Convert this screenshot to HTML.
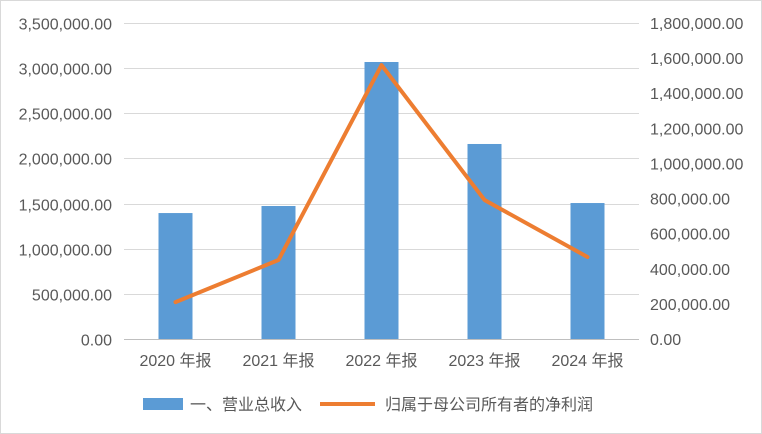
<!DOCTYPE html>
<html><head><meta charset="utf-8"><style>
body{margin:0;background:#fff;}
svg{display:block;font-family:"Liberation Sans","Noto Sans CJK SC",sans-serif;}
</style></head><body>
<svg id="c" width="762" height="434">
<rect x="0.5" y="0.5" width="761" height="433" fill="#fff" stroke="#d9d9d9"/>
<g id="grid"></g><g id="bars"></g><g id="line"></g><g id="axes"></g>
<g>
<rect x="143" y="398" width="40" height="12" fill="#5b9bd5"/>
<text x="190" y="410" font-size="16" fill="#595959">一、营业总收入</text>
<line x1="320" y1="404" x2="375" y2="404" stroke="#ed7d31" stroke-width="4"/>
<text x="385" y="410" font-size="16" fill="#595959">归属于母公司所有者的净利润</text>
</g>
</svg>
<script>
const categories=["2020年报","2021年报","2022年报","2023年报","2024年报"];
const catLabels=["2020 年报","2021 年报","2022 年报","2023 年报","2024 年报"];
const revenue=[1395000,1473000,3068000,2160000,1506000];
const profit=[210000,450000,1560000,792000,467000];
const leftTicks=[0,500000,1000000,1500000,2000000,2500000,3000000,3500000];
const rightTicks=[0,200000,400000,600000,800000,1000000,1200000,1400000,1600000,1800000];
const NS="http://www.w3.org/2000/svg";
const x0=124,x1=639,yB=339,yT=23;
const yL=v=>yB-(v/3500000)*(yB-yT);
const yR=v=>yB-(v/1800000)*(yB-yT);
const xC=i=>x0+(i+0.5)*(x1-x0)/categories.length;
const fmt=v=>v.toLocaleString("en-US",{minimumFractionDigits:2,maximumFractionDigits:2});
function mk(tag,attrs,parent,txt){const e=document.createElementNS(NS,tag);for(const k in attrs)e.setAttribute(k,attrs[k]);if(txt!==undefined)e.textContent=txt;document.getElementById(parent).appendChild(e);return e;}
leftTicks.forEach(v=>{
 const y=Math.round(yL(v))+0.5;
 const g=mk("line",{x1:x0,x2:x1,y1:y,y2:y,stroke:v===0?"#bfbfbf":"#d9d9d9"},"grid");
 
 
 const t=mk("text",{x:112,y:y+6,"text-anchor":"end","font-size":16,fill:"#595959"},"axes",fmt(v));
 
 
});
rightTicks.forEach(v=>{
 const t=mk("text",{x:650,y:yR(v)+6,"font-size":16,fill:"#595959"},"axes",fmt(v));
 
 
});
categories.forEach((c,i)=>{
 const b=mk("rect",{x:xC(i)-17,y:yL(revenue[i]),width:34,height:yB-yL(revenue[i]),fill:"#5b9bd5"},"bars");
 
 
 const t=mk("text",{x:xC(i),y:366,"text-anchor":"middle","font-size":16,fill:"#595959"},"axes",catLabels[i]);
 
 
});
const pl=mk("polyline",{points:profit.map((v,i)=>xC(i)+","+yR(v)).join(" "),fill:"none",stroke:"#ed7d31","stroke-width":4,"stroke-linejoin":"round","stroke-linecap":"round"},"line");


</script>
</body></html>
